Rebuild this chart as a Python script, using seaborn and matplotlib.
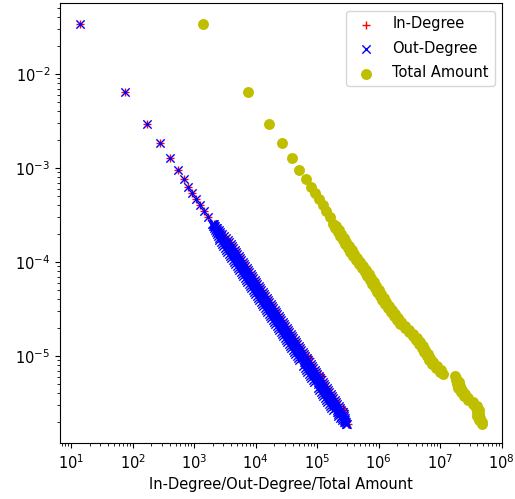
import matplotlib
matplotlib.use("Agg")
import matplotlib.pyplot as plt
import seaborn as sns

plt.rcParams["font.size"] = 10.5

# sparse head of the distributions (shared probability levels)
top_prob = [0.034, 0.0065, 0.00296, 0.00183, 0.00129, 0.000946, 0.00076,
            0.000632, 0.000546, 0.000471, 0.000406, 0.000351, 0.000303]
top_deg = [14, 75, 172, 280, 407, 543, 676, 798, 927, 1079, 1253, 1456, 1691]
top_amt = [1416, 7640, 16600, 26700, 39200, 51500, 65400,
           79000, 92400, 108000, 124000, 141000, 160000]

# dense tail, read as log10 values off the log-log axes
tail_log_prob = [
    -3.596, -3.617, -3.639, -3.660, -3.681, -3.702, -3.724, -3.745, -3.766, -3.788,
    -3.809, -3.830, -3.851, -3.873, -3.894, -3.915, -3.936, -3.958, -3.979, -4.000,
    -4.022, -4.043, -4.064, -4.085, -4.107, -4.128, -4.149, -4.171, -4.192, -4.213,
    -4.234, -4.256, -4.277, -4.298, -4.320, -4.341, -4.362, -4.383, -4.405, -4.426,
    -4.447, -4.468, -4.490, -4.511, -4.532, -4.554, -4.575, -4.596, -4.617, -4.639,
    -4.660, -4.681, -4.703, -4.724, -4.745, -4.766, -4.788, -4.809, -4.830, -4.851,
    -4.873, -4.894, -4.915, -4.937, -4.958, -4.979, -5.000, -5.022, -5.043, -5.064,
    -5.086, -5.107, -5.128, -5.149, -5.171, -5.192, -5.213, -5.234, -5.256, -5.277,
    -5.298, -5.320, -5.341, -5.362, -5.383, -5.405, -5.426, -5.447, -5.468, -5.490,
    -5.511, -5.532, -5.554, -5.575, -5.596, -5.617, -5.639, -5.660, -5.681, -5.702,
    -5.724]

# out-degree: left edge, middle and right edge of the band
out_lo_log = [
    3.296, 3.313, 3.329, 3.346, 3.363, 3.374, 3.386, 3.398, 3.409, 3.431,
    3.453, 3.474, 3.496, 3.518, 3.539, 3.561, 3.583, 3.604, 3.626, 3.648,
    3.669, 3.691, 3.713, 3.734, 3.756, 3.778, 3.799, 3.821, 3.843, 3.864,
    3.886, 3.908, 3.929, 3.951, 3.973, 3.994, 4.016, 4.038, 4.059, 4.081,
    4.103, 4.124, 4.146, 4.168, 4.189, 4.211, 4.233, 4.254, 4.276, 4.298,
    4.319, 4.341, 4.363, 4.384, 4.406, 4.428, 4.449, 4.471, 4.493, 4.514,
    4.536, 4.558, 4.579, 4.601, 4.623, 4.644, 4.666, 4.688, 4.709, 4.781,
    4.803, 4.774, 4.796, 4.818, 4.839, 4.861, 4.883, 4.904, 4.926, 4.948,
    5.019, 5.041, 5.013, 5.034, 5.056, 5.078, 5.099, 5.121, 5.143, 5.164,
    5.186, 5.208, 5.229, 5.251, 5.323, 5.344, 5.336, 5.368, 5.399, 5.431,
    5.463]
out_mid_log = [
    3.306, 3.328, 3.349, 3.371, 3.393, 3.414, 3.436, 3.458, 3.479, 3.501,
    3.523, 3.544, 3.566, 3.588, 3.609, 3.631, 3.653, 3.674, 3.696, 3.718,
    3.739, 3.761, 3.783, 3.804, 3.826, 3.848, 3.869, 3.891, 3.913, 3.934,
    3.956, 3.978, 3.999, 4.021, 4.043, 4.064, 4.086, 4.108, 4.129, 4.151,
    4.173, 4.194, 4.216, 4.238, 4.259, 4.281, 4.303, 4.324, 4.346, 4.368,
    4.389, 4.411, 4.433, 4.454, 4.476, 4.498, 4.519, 4.541, 4.563, 4.584,
    4.606, 4.628, 4.649, 4.671, 4.693, 4.714, 4.736, 4.758, 4.779, 4.801,
    4.823, 4.844, 4.866, 4.888, 4.909, 4.931, 4.953, 4.974, 4.996, 5.018,
    5.039, 5.061, 5.083, 5.104, 5.126, 5.148, 5.169, 5.191, 5.213, 5.234,
    5.256, 5.278, 5.299, 5.321, 5.343, 5.364, 5.386, 5.408, 5.429, 5.451,
    5.473]
out_hi_log = [
    3.316, 3.343, 3.369, 3.396, 3.423, 3.454, 3.486, 3.518, 3.549, 3.571,
    3.593, 3.614, 3.636, 3.658, 3.679, 3.701, 3.723, 3.744, 3.766, 3.788,
    3.809, 3.831, 3.853, 3.874, 3.896, 3.918, 3.939, 3.961, 3.983, 4.004,
    4.026, 4.048, 4.069, 4.091, 4.113, 4.134, 4.156, 4.178, 4.199, 4.221,
    4.243, 4.264, 4.286, 4.308, 4.329, 4.351, 4.373, 4.394, 4.416, 4.438,
    4.459, 4.481, 4.503, 4.524, 4.546, 4.568, 4.589, 4.611, 4.633, 4.654,
    4.676, 4.698, 4.719, 4.741, 4.763, 4.784, 4.806, 4.828, 4.849, 4.871,
    4.893, 4.914, 4.936, 4.958, 4.979, 5.001, 5.023, 5.044, 5.066, 5.088,
    5.109, 5.131, 5.153, 5.174, 5.196, 5.218, 5.239, 5.261, 5.283, 5.304,
    5.326, 5.348, 5.369, 5.391, 5.413, 5.434, 5.436, 5.448, 5.459, 5.471,
    5.483]

# in-degree: mostly under the out-degree band, poking out on the right
in_log = [
    3.321, 3.348, 3.374, 3.401, 3.428, 3.459, 3.491, 3.523, 3.554, 3.576,
    3.598, 3.619, 3.641, 3.663, 3.684, 3.706, 3.728, 3.749, 3.771, 3.793,
    3.814, 3.836, 3.858, 3.879, 3.901, 3.923, 3.944, 3.966, 3.988, 4.009,
    4.031, 4.053, 4.074, 4.096, 4.118, 4.139, 4.161, 4.183, 4.204, 4.226,
    4.248, 4.269, 4.291, 4.313, 4.334, 4.356, 4.378, 4.399, 4.421, 4.443,
    4.464, 4.486, 4.508, 4.529, 4.551, 4.573, 4.594, 4.616, 4.638, 4.659,
    4.681, 4.703, 4.724, 4.746, 4.768, 4.789, 4.856, 4.878, 4.854, 4.876,
    4.898, 4.919, 4.941, 4.963, 4.984, 5.051, 5.073, 5.049, 5.071, 5.093,
    5.114, 5.136, 5.158, 5.179, 5.201, 5.223, 5.244, 5.266, 5.288, 5.309,
    5.331, 5.353, 5.419, 5.441, 5.418, 5.439, 5.441, 5.453, 5.464, 5.476,
    5.508]

# total amount
amt_log = [
    5.252, 5.313, 5.294, 5.354, 5.334, 5.395, 5.375, 5.436, 5.416, 5.476,
    5.456, 5.517, 5.497, 5.558, 5.539, 5.603, 5.586, 5.650, 5.634, 5.697,
    5.679, 5.743, 5.726, 5.790, 5.773, 5.835, 5.816, 5.876, 5.856, 5.917,
    5.897, 5.957, 5.936, 5.997, 5.977, 6.037, 6.017, 6.078, 6.058, 6.122,
    6.105, 6.168, 6.151, 6.215, 6.198, 6.262, 6.245, 6.308, 6.291, 6.357,
    6.343, 6.422, 6.421, 6.499, 6.497, 6.565, 6.552, 6.621, 6.609, 6.675,
    6.661, 6.721, 6.700, 6.760, 6.739, 6.799, 6.778, 6.838, 6.817, 6.885,
    6.873, 6.941, 6.928, 7.006, 7.004, 7.050, 7.244, 7.262, 7.256, 7.303,
    7.269, 7.320, 7.292, 7.356, 7.339, 7.403, 7.387, 7.457, 7.447, 7.526,
    7.525, 7.593, 7.580, 7.625, 7.590, 7.636, 7.601, 7.654, 7.627, 7.683,
    7.678]

tail_prob = [10 ** v for v in tail_log_prob]

in_x = top_deg + [10 ** v for v in in_log]
in_y = top_prob + tail_prob
out_x = top_deg + [10 ** v for v in out_lo_log + out_mid_log + out_hi_log]
out_y = top_prob + tail_prob * 3
amt_x = top_amt + [10 ** v for v in amt_log]
amt_y = top_prob + tail_prob

fig, ax = plt.subplots(figsize=(5.15, 4.99), dpi=100)
fig.subplots_adjust(left=0.1165, right=0.9748, top=0.9934, bottom=0.1116)

sns.scatterplot(x=in_x, y=in_y, marker="+", color="red", s=40,
                linewidth=1, label="In-Degree", ax=ax)
sns.scatterplot(x=out_x, y=out_y, marker="x", color="blue", s=36,
                linewidth=1, label="Out-Degree", ax=ax)
sns.scatterplot(x=amt_x, y=amt_y, marker="o", color="y", s=62,
                linewidth=0, label="Total Amount", ax=ax)

ax.set_xscale("log")
ax.set_yscale("log")
ax.set_xticks([1e1, 1e2, 1e3, 1e4, 1e5, 1e6, 1e7, 1e8])
ax.set_yticks([1e-5, 1e-4, 1e-3, 1e-2])
ax.set_xlim(6.6, 1.01e8)
ax.set_ylim(1.18e-6, 0.0565)
ax.set_xlabel("In-Degree/Out-Degree/Total Amount")
ax.set_ylabel("")
ax.legend(loc="upper right", labelspacing=0.65, markerscale=1.0)

fig.savefig("out.png", dpi=100)
